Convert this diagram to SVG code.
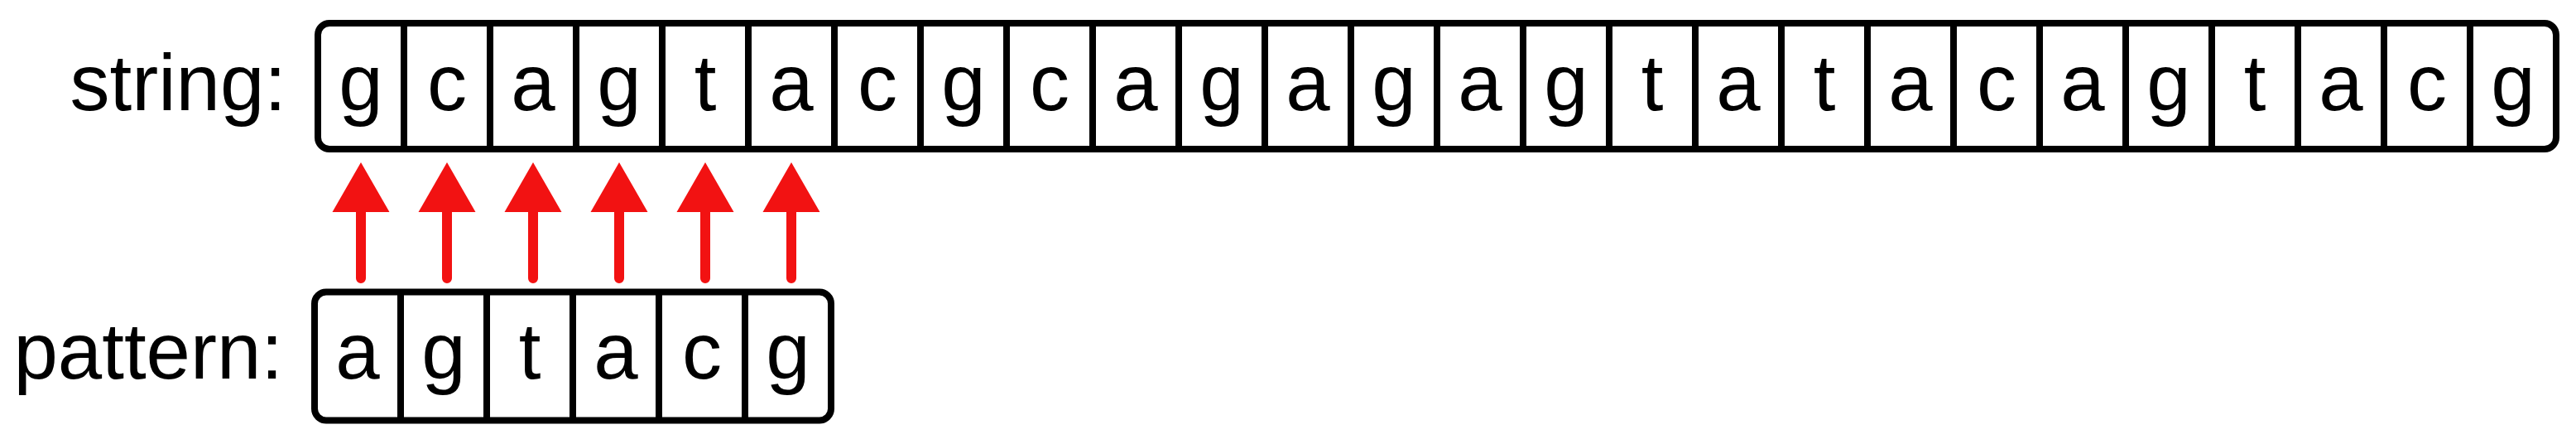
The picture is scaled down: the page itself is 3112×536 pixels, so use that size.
<svg xmlns="http://www.w3.org/2000/svg" width="3112" height="536" viewBox="0 0 3112 536">
<style>
.box{fill:#ffffff;stroke:#000000;stroke-width:8}
.div{stroke:#000000;stroke-width:8;fill:none}
.lbl{font-family:"Liberation Sans",Arial,Helvetica,sans-serif;font-size:96px;fill:#000000}
.ch{font-family:"Liberation Sans",Arial,Helvetica,sans-serif;font-size:96px;fill:#000000;text-anchor:middle}
.shaft{stroke:#f21212;stroke-width:12;stroke-linecap:round;fill:none}
.head{fill:#f21212}
</style>
<rect width="3112" height="536" fill="#ffffff"/>
<g id="label-string"><text class="lbl" x="346" y="133" text-anchor="end">string:</text></g>
<g id="label-pattern"><text class="lbl" x="342" y="457" text-anchor="end">pattern:</text></g>
<g id="string">
<rect class="box" x="384" y="28" width="2704" height="152" rx="14"/>
<path class="div" d="M488 28V180M592 28V180M696 28V180M800 28V180M904 28V180M1008 28V180M1112 28V180M1216 28V180M1320 28V180M1424 28V180M1528 28V180M1632 28V180M1736 28V180M1840 28V180M1944 28V180M2048 28V180M2152 28V180M2256 28V180M2360 28V180M2464 28V180M2568 28V180M2672 28V180M2776 28V180M2880 28V180M2984 28V180"/>
<text class="ch" y="133"><tspan x="436">g</tspan><tspan x="540">c</tspan><tspan x="644">a</tspan><tspan x="748">g</tspan><tspan x="852">t</tspan><tspan x="956">a</tspan><tspan x="1060">c</tspan><tspan x="1164">g</tspan><tspan x="1268">c</tspan><tspan x="1372">a</tspan><tspan x="1476">g</tspan><tspan x="1580">a</tspan><tspan x="1684">g</tspan><tspan x="1788">a</tspan><tspan x="1892">g</tspan><tspan x="1996">t</tspan><tspan x="2100">a</tspan><tspan x="2204">t</tspan><tspan x="2308">a</tspan><tspan x="2412">c</tspan><tspan x="2516">a</tspan><tspan x="2620">g</tspan><tspan x="2724">t</tspan><tspan x="2828">a</tspan><tspan x="2932">c</tspan><tspan x="3036">g</tspan></text>
</g>
<g id="pattern">
<rect class="box" x="380" y="352.5" width="624" height="155" rx="14"/>
<path class="div" d="M484 352.5V507.5M588 352.5V507.5M692 352.5V507.5M796 352.5V507.5M900 352.5V507.5"/>
<text class="ch" y="457"><tspan x="432">a</tspan><tspan x="536">g</tspan><tspan x="640">t</tspan><tspan x="744">a</tspan><tspan x="848">c</tspan><tspan x="952">g</tspan></text>
</g>
<g id="connectors">
<path class="shaft" d="M436 336V250M540 336V250M644 336V250M748 336V250M852 336V250M956 336V250"/>
<path class="head" d="M436 196L470.5 256H401.5ZM540 196L574.5 256H505.5ZM644 196L678.5 256H609.5ZM748 196L782.5 256H713.5ZM852 196L886.5 256H817.5ZM956 196L990.5 256H921.5Z"/>
</g>
</svg>
